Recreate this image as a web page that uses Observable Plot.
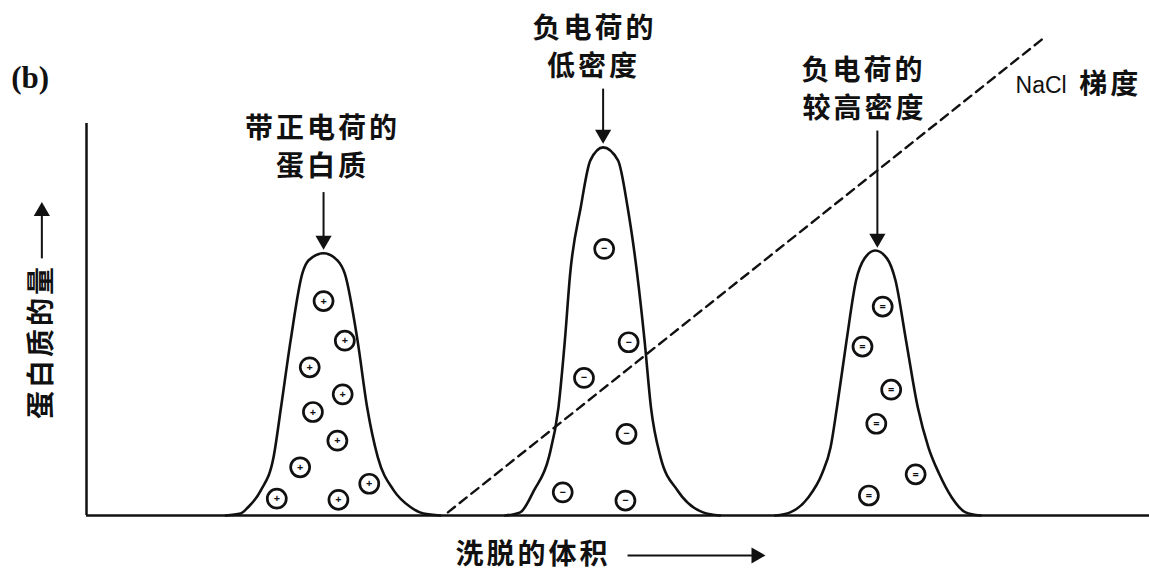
<!DOCTYPE html>
<html><head><meta charset="utf-8">
<script src="https://cdn.jsdelivr.net/npm/d3@7"></script>
<script src="https://cdn.jsdelivr.net/npm/@observablehq/plot@0.6"></script>
<style>
body{margin:0;background:#fff}
g[font-family*="CJK"] text{letter-spacing:3px}
</style></head><body><div id="chart"></div>
<script>
// Peak outlines (elution volume, protein amount)
const peak1X = [13.1,14.5,15.2,16.4,17.6,18.3,19.2,20.3,20.9,22.3,23.6,24.3,25.5,26.4,27.4,28.9,30.5,31.7,33.3];
const peak1Y = [0,0.5,2.1,6.4,14.9,27.6,44.6,61.7,65.1,66.9,65.1,61.7,44.6,27.6,14.9,6.4,2.1,0.5,0];
const peak2X = [39.4,40.8,42.1,43.5,44.4,45.0,45.5,46.5,47.4,48.6,50.0,50.9,51.8,52.5,53.1,54.0,55.6,58.0,59.6];
const peak2Y = [0,0.8,6.4,14.9,27.6,44.6,61.7,78.7,90.6,93.9,90.6,78.7,61.7,44.6,27.6,14.9,6.4,0.8,0];
const peak3X = [64.8,66.2,67.9,69.2,70.0,70.6,71.5,72.4,73.2,74.2,75.3,76.1,77.1,78.2,79.2,80.2,81.4,82.7,84.1];
const peak3Y = [0,0.8,4.6,10.7,17.4,27.6,44.6,60.0,65.6,67.6,65.6,60.0,44.6,27.6,17.4,10.7,4.6,0.8,0];

// Protein molecules (charged circles)
const molX = [22.3,24.3,21.0,24.1,21.3,23.6,20.1,26.6,17.9,23.7, 48.7,51.0,46.8,50.8,44.8,50.7, 74.9,73.0,75.7,74.3,78.0,73.6];
const molY = [54.7,44.6,37.8,30.9,26.4,19.1,12.3,8.1,4.3,4.0, 68.0,44.2,35.1,20.8,5.9,3.8, 53.3,43.1,32.1,23.4,10.5,5.1];
const molSign = ["+","+","+","+","+","+","+","+","+","+", "−","−","−","−","−","−", "=","=","=","=","=","="];

// NaCl gradient line
const gradX = [34.0, 90.0];
const gradY = [0.8, 121.7];

// Annotations
const labelText = ["带正电荷的","蛋白质","负电荷的","低密度","负电荷的","较高密度"];
const labelX = [22.2,22.2,47.8,47.7,73.1,73.2];
const labelY = [98.7,89.0,124.2,114.5,113.4,103.8];
const arrowX = [22.3,48.6,74.4];
const arrowY1 = [82.5,108.9,98.2];
const arrowY2 = [68.4,95.4,68.9];

const xTitle = "洗脱的体积";
const yTitle = "蛋白质的量";
const panelTag = "(b)";

const peaks = [[peak1X,peak1Y],[peak2X,peak2Y],[peak3X,peak3Y]].flatMap(([xs,ys],k)=>xs.map((x,i)=>({peak:k,x,y:ys[i]})));
const mols = molX.map((x,i)=>({x,y:molY[i],s:molSign[i]}));
const grad = gradX.map((x,i)=>({x,y:gradY[i]}));
const labels = labelText.map((t,i)=>({t,x:labelX[i],y:labelY[i]}));
const arrows = arrowX.map((x,i)=>({x,y1:arrowY1[i],y2:arrowY2[i]}));

const CJK = "'Noto Sans CJK SC', sans-serif";

const chart = Plot.plot({
  width: 1149, height: 574,
  marginLeft: 86, marginRight: 0, marginTop: 123, marginBottom: 59,
  x: {domain:[0,100], axis:null},
  y: {domain:[0,100], axis:null},
  style: {background:"#fff", overflow:"visible"},
  marks: [
    Plot.ruleX([0], {y1:0, y2:100, stroke:"#111", strokeWidth:2.5}),
    Plot.ruleY([0], {x1:0, x2:100, stroke:"#111", strokeWidth:2.5}),
    Plot.line(grad, {x:"x", y:"y", stroke:"#111", strokeWidth:2.4, strokeDasharray:"9,6"}),
    Plot.line(peaks, {x:"x", y:"y", z:"peak", curve:"monotone-x", stroke:"#111", strokeWidth:2.6}),
    Plot.dot(mols, {x:"x", y:"y", r:9.5, fill:"#fff", stroke:"#111", strokeWidth:2.7}),
    Plot.text(mols, {x:"x", y:"y", text:"s", fontSize:11, fontWeight:"bold", fill:"#111"}),
    // annotation arrows
    Plot.link(arrows, {x1:"x", x2:"x", y1:"y1", y2:d=>d.y2+2.5, stroke:"#111", strokeWidth:2}),
    Plot.dot(arrows, {x:"x", y:d=>d.y2+1.8, symbol:"triangle", rotate:180, r:6, fill:"#111", stroke:null}),
    Plot.text(labels, {x:"x", y:"y", text:"t", fontSize:28, fontWeight:"bold", fontFamily:CJK, fill:"#111"}),
    // NaCl label
    Plot.text([{x:87.4, y:109.7}], {x:"x", y:"y", text:()=> "NaCl", textAnchor:"start", fontSize:23, fontFamily:"'Liberation Sans', Arial, sans-serif", fill:"#111"}),
    Plot.text([{x:93.4, y:109.7}], {x:"x", y:"y", text:()=> "梯度", textAnchor:"start", fontSize:28, fontWeight:"bold", fontFamily:CJK, fill:"#111"}),
    // panel tag
    Plot.text([{x:-5.3, y:111.5}], {x:"x", y:"y", text:()=>panelTag, fontSize:31, fontWeight:"bold", fontFamily:"'Liberation Serif', 'DejaVu Serif', serif", fill:"#111"}),
    // x title + arrow
    Plot.text([{x:42.0, y:-10.2}], {x:"x", y:"y", text:()=>xTitle, fontSize:28, fontWeight:"bold", fontFamily:CJK, fill:"#111"}),
    Plot.link([{x1:50.9, x2:62.6, y:-10.2}], {x1:"x1", x2:"x2", y1:"y", y2:"y", stroke:"#111", strokeWidth:2}),
    Plot.dot([{x:63.0, y:-10.2}], {x:"x", y:"y", symbol:"triangle", rotate:90, r:6, fill:"#111", stroke:null}),
    // y title + arrow
    Plot.text([{x:-4.2, y:44.4}], {x:"x", y:"y", text:()=>yTitle, rotate:-90, fontSize:28, fontWeight:"bold", fontFamily:CJK, fill:"#111"}),
    Plot.link([{x:-4.2, y1:65.6, y2:77.0}], {x1:"x", x2:"x", y1:"y1", y2:"y2", stroke:"#111", strokeWidth:2}),
    Plot.dot([{x:-4.2, y:77.6}], {x:"x", y:"y", symbol:"triangle", rotate:0, r:6, fill:"#111", stroke:null})
  ]
});
document.getElementById("chart").appendChild(chart);
</script></body></html>
